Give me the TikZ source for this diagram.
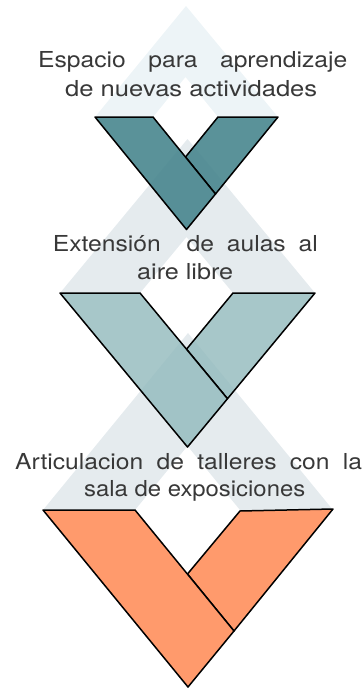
\documentclass[tikz,border=0pt]{standalone}
\usepackage{fontspec}
\setmainfont{TeX Gyre Heros}
\usepackage{graphicx}
\definecolor{bgA}{HTML}{EDF4F7}
\definecolor{bgB}{HTML}{E5EBEE}
\definecolor{vA}{RGB}{72,134,142}
\definecolor{vB}{RGB}{145,185,188}
\definecolor{vC}{HTML}{FF9A6C}
\definecolor{txt}{HTML}{383838}
\newcommand\jline[2]{\scalebox{1.12}[1]{\hbox to #1{#2}}}
\begin{document}
\begin{tikzpicture}[x=1pt,y=-1pt,
  vband/.style={draw=black, line width=1.5pt, line join=round},
  lbl/.style={anchor=base west, inner sep=0pt, text=txt, font=\fontsize{22}{26}\selectfont}]
\useasboundingbox (0,0) rectangle (363,688);
% background chevrons
\fill[bgA] (95,117) -- (186,6) -- (278,117) -- (218,117) -- (185.5,77) -- (153,117) -- cycle;
\fill[bgB] (60,293) -- (187.5,139) -- (315,293) -- (233,293) -- (186.5,237) -- (140,293) -- cycle;
\fill[bgB] (43,510) -- (188,333) -- (333,510) -- (240,510) -- (187.5,446) -- (135,510) -- cycle;
% V1
\filldraw[vband, fill=vA, fill opacity=0.9] (185.5,157) -- (218,117) -- (278,117) -- (215.5,194) -- cycle;
\filldraw[vband, fill=vA, fill opacity=0.9] (95,117) -- (153,117) -- (215.5,194) -- (186.5,229.5) -- cycle;
% V2
\filldraw[vband, fill=vB, fill opacity=0.8] (186.5,349.2) -- (233,293) -- (315,293) -- (227.5,398.7) -- cycle;
\filldraw[vband, fill=vB, fill opacity=0.8] (60,293) -- (140,293) -- (227.5,398.7) -- (187.5,447) -- cycle;
% V3
\filldraw[vband, fill=vC] (187.5,574) -- (240,511) -- (333,509) -- (234,631) -- cycle;
\filldraw[vband, fill=vC] (43,510) -- (135,510) -- (234,631) -- (188,687) -- cycle;
% texts
\node[lbl] (t1a) at (38,67.3) {\jline{275.9pt}{Espacio\hfill para\hfill aprendizaje}};
\node[lbl] (t1b) at (65,96.7) {\resizebox{252pt}{\height}{de nuevas actividades}};
\node[lbl] (t2a) at (52.7,251) {\jline{236.6pt}{Extensión\hfill\hfill de\hfill aulas\hfill al}};
\node[lbl] (t2b) at (137,279.3) {\resizebox{96pt}{\height}{aire libre}};
\node[lbl] (t3a) at (15,469.3) {\jline{309.8pt}{Articulacion\hfill de\hfill talleres\hfill con\hfill la}};
\node[lbl] (t3b) at (84,496.7) {\resizebox{221pt}{\height}{sala de exposiciones}};
\end{tikzpicture}
\end{document}
